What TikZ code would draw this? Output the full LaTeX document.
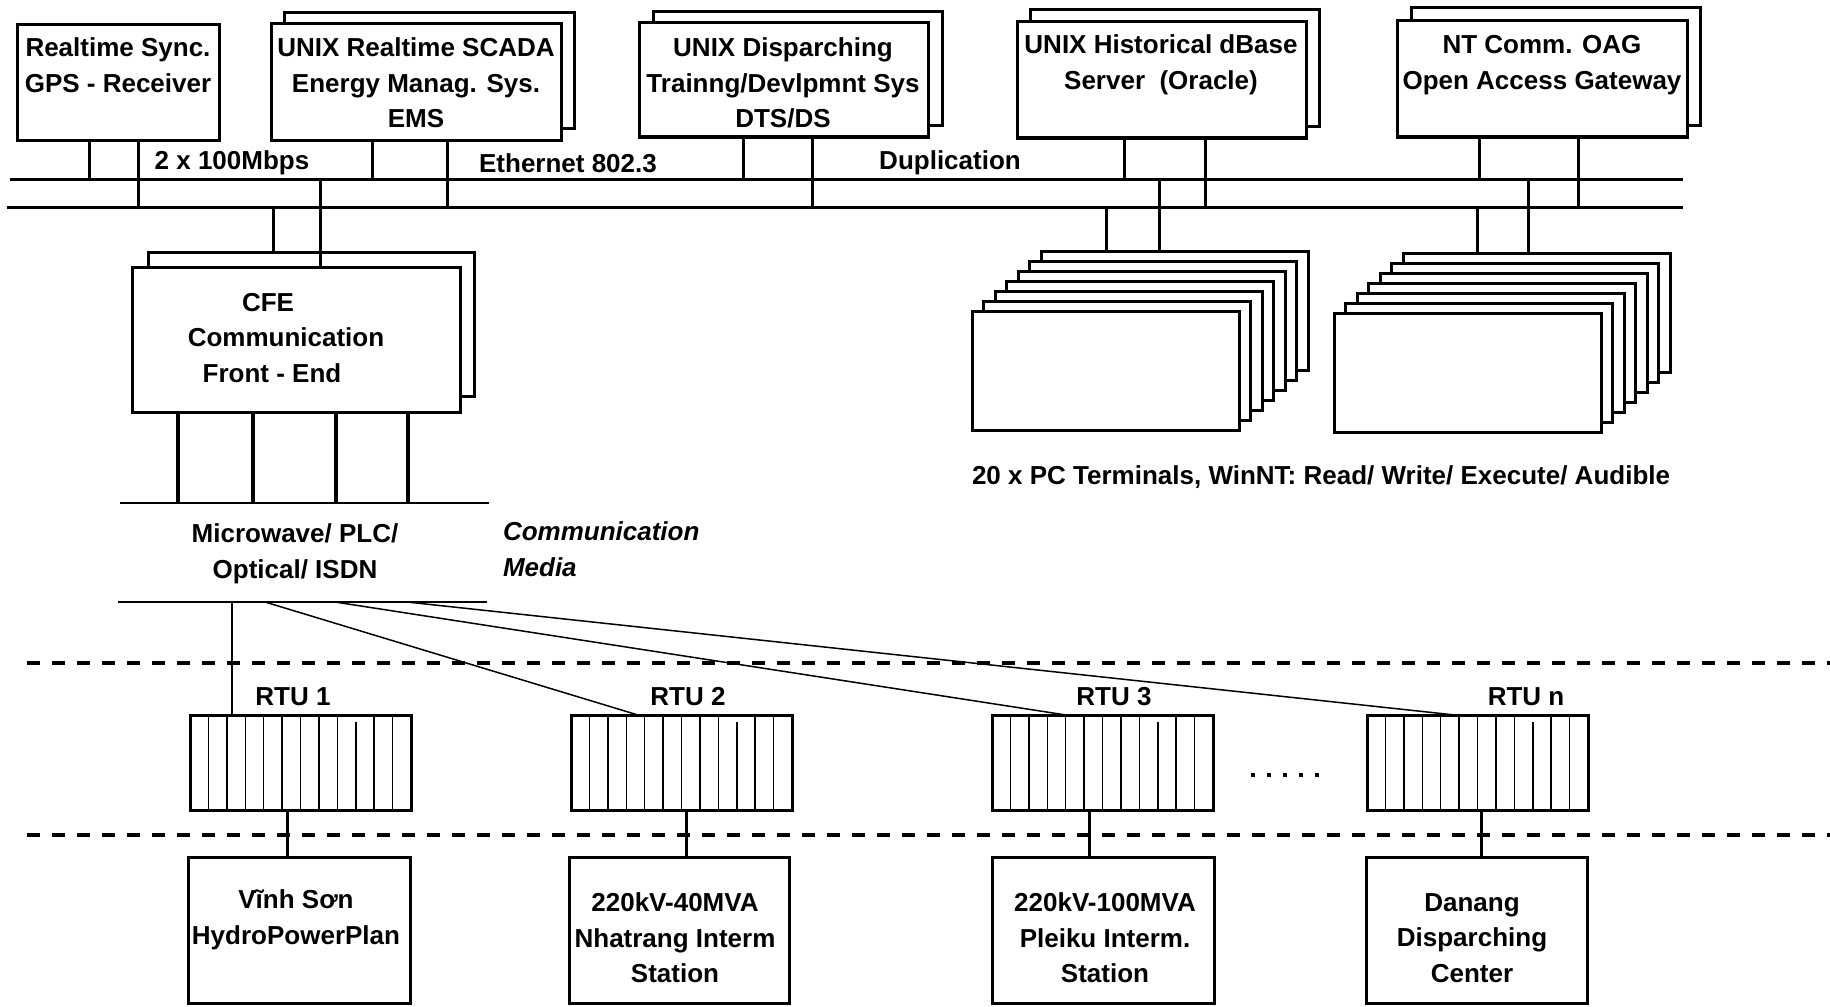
\documentclass[tikz,border=0pt]{standalone}
\usepackage{fontspec}
\setmainfont{Liberation Sans}
\usetikzlibrary{fit}
\begin{document}
\begin{tikzpicture}[x=0.5pt,y=-0.5pt,
  every node/.style={inner sep=0pt, outer sep=0pt},
  box/.style={draw, fill=white, line width=1.5pt, rectangle, inner sep=0pt},
  txt/.style={font=\fontsize{13}{17.75}\selectfont\bfseries, align=center},
  itxt/.style={font=\fontsize{13}{17.75}\selectfont\bfseries\itshape, align=left},
  bus/.style={line width=1.5pt},
  thinln/.style={line width=0.75pt},
  medialn/.style={line width=1pt},
  heavy/.style={line width=2pt},
  dashln/.style={line width=1.75pt, dash pattern=on 6.65pt off 5.85pt}
]
\useasboundingbox (0,0) rectangle (1830,1006);

% ---------- top boxes ----------
\node[box, fit={(17,25) (219,140)}] (rs) {};
\node[box, fit={(284,13) (574,129)}] (scadaB) {};
\node[box, fit={(271,24) (561,140)}] (scada) {};
\node[box, fit={(653,12) (942,126)}] (disB) {};
\node[box, fit={(639,23) (928,137)}] (dis) {};
\node[box, fit={(1030,10) (1319,127)}] (histB) {};
\node[box, fit={(1017,22) (1306,138)}] (hist) {};
\node[box, fit={(1411,8) (1700,126)}] (ntB) {};
\node[box, fit={(1397,21) (1687,137)}] (nt) {};

\node[txt] (rs-t) at (118,65) {Realtime Sync.\\GPS - Receiver};
\node[txt] (scada-t) at (416,83) {UNIX Realtime SCADA\\Energy Manag. Sys.\\EMS};
\node[txt] (dis-t) at (783,83) {UNIX Disparching\\Trainng/Devlpmnt Sys\\DTS/DS};
\node[txt] (hist-t) at (1161,65) {UNIX Historical dBase\\Server\ \ (Oracle)};
\node[txt] (nt-t) at (1542,65) {NT Comm. OAG\\Open Access Gateway};

% ---------- bus ----------
\coordinate (bAw) at (10,179); \coordinate (bAe) at (1683,179);
\coordinate (bBw) at (7,207);  \coordinate (bBe) at (1683,207);
\draw[bus] (bAw) -- (bAe);
\draw[bus] (bBw) -- (bBe);

\node[txt] (lbl1) at (232,163) {2 x 100Mbps};
\node[txt] (lbl2) at (568,163) {Ethernet 802.3};
\node[txt] (lbl3) at (950,163) {Duplication};

\foreach \src/\xx/\yy [count=\i] in {rs/89/179, rs/138/207, scada/372/179, scada/447/207,
    dis/743/179, dis/812/207, hist/1124/179, hist/1205/207, nt/1479/179, nt/1578/207}
  { \coordinate (up\i) at (\xx,\yy); \draw[bus] (\src.south -| up\i) -- (up\i); }

% ---------- CFE ----------
\node[box, fit={(148,252) (474,396)}] (cfeB) {};
\node[box, fit={(132,267) (460,412)}] (cfe) {};
\node[txt] (cfe-t) at (286,338) {CFE\hspace*{18pt}\\Communication\\Front - End\hspace*{14pt}};

\coordinate (dn1) at (273,207); \draw[bus] (dn1) -- (cfeB.north -| dn1);
\coordinate (dn2) at (320,179); \draw[bus] (dn2) -- (cfe.north -| dn2);

% ---------- media ----------
\coordinate (mtw) at (120,503); \coordinate (mte) at (489,503);
\coordinate (mbw) at (118,602); \coordinate (mbe) at (487,602);
\draw[medialn] (mtw) -- (mte);
\draw[medialn] (mbw) -- (mbe);
\foreach \xx [count=\i] in {178,253,336,408}
  { \coordinate (m\i) at (\xx,503); \draw[heavy] (cfe.south -| m\i) -- (m\i); }
\node[txt] (media-t) at (295,554) {Microwave/ PLC/\\Optical/ ISDN};
\node[itxt, anchor=west] (cm-t) at (503,549) {Communication\\Media};

% ---------- PC terminal stacks ----------
\foreach \k in {6,5,...,0}
  { \node[box, fit={({972+11.5*\k},{311-10*\k}) ({1239+11.5*\k},{430-10*\k})}] (sa\k) {}; }
\foreach \k in {6,5,...,0}
  { \node[box, fit={({1334+11.5*\k},{313-10*\k}) ({1601+11.5*\k},{432-10*\k})}] (sb\k) {}; }
\coordinate (dn3) at (1106,207); \draw[bus] (dn3) -- (sa6.north -| dn3);
\coordinate (dn4) at (1159,179); \draw[bus] (dn4) -- (sa6.north -| dn4);
\coordinate (dn5) at (1477,207); \draw[bus] (dn5) -- (sb6.north -| dn5);
\coordinate (dn6) at (1528,179); \draw[bus] (dn6) -- (sb6.north -| dn6);
\node[txt, anchor=west] (pc-t) at (972,477) {20 x PC Terminals, WinNT: Read/ Write/ Execute/ Audible};

% ---------- dashed separators ----------
\coordinate (d1w) at (27,663); \coordinate (d1e) at (1830,663);
\coordinate (d2w) at (27,835); \coordinate (d2e) at (1830,835);
\draw[dashln] (d1w) -- (d1e);
\draw[dashln] (d2w) -- (d2e);

% ---------- RTUs ----------
\foreach \nm/\xa in {r1/190, r2/571, r3/992, rn/1367}
{
  \node[box, fit={(\xa,715) ({\xa+221},810)}] (\nm) {};
  \foreach \j/\ys in {1/715,2/715,3/715,4/715,5/715,6/715,7/715,8/715,9/722,10/715,11/715}
    { \draw[thinln] ({\xa+221*\j/12},\ys) -- ({\xa+221*\j/12},810); }
}
\node[txt] (r1-t) at (293,697) {RTU 1};
\node[txt] (r2-t) at (688,697) {RTU 2};
\node[txt] (r3-t) at (1114,697) {RTU 3};
\node[txt] (rn-t) at (1526,697) {RTU n};

\coordinate (c1) at (232,602);  \draw[thinln] (c1) -- (r1.north -| c1);
\coordinate (c2) at (265,602);  \coordinate (e2) at (638,715);  \draw[thinln] (c2) -- (e2);
\coordinate (c3) at (335,602);  \coordinate (e3) at (1066,715); \draw[thinln] (c3) -- (e3);
\coordinate (c4) at (407,602);  \coordinate (e4) at (1455,715); \draw[thinln] (c4) -- (e4);

% dots
\foreach \xx in {1253,1269,1285,1301,1317}
  { \fill ({\xx-2},773) rectangle ({\xx+2},777); }

% ---------- stations ----------
\node[box, fit={(188,857) (410,1003)}] (s1) {};
\node[box, fit={(569,857) (789,1003)}] (s2) {};
\node[box, fit={(992,857) (1214,1003)}] (s3) {};
\node[box, fit={(1366,857) (1587,1003)}] (sn) {};

\foreach \nm/\st/\xx in {r1/s1/287, r2/s2/686, r3/s3/1089, rn/sn/1481}
  { \coordinate (k\nm) at (\xx,810); \draw[bus] (k\nm) -- (\st.north -| k\nm); }

\node[txt] (s1-t) at (296,920) {Vĩnh Sơn\\HydroPowerPlan};
\node[txt] (s2-t) at (675,938) {220kV-40MVA\\Nhatrang Interm\\Station};
\node[txt] (s3-t) at (1105,938) {220kV-100MVA\\Pleiku Interm.\\Station};
\node[txt] (sn-t) at (1472,938) {Danang\\Disparching\\Center};
\end{tikzpicture}
\end{document}
